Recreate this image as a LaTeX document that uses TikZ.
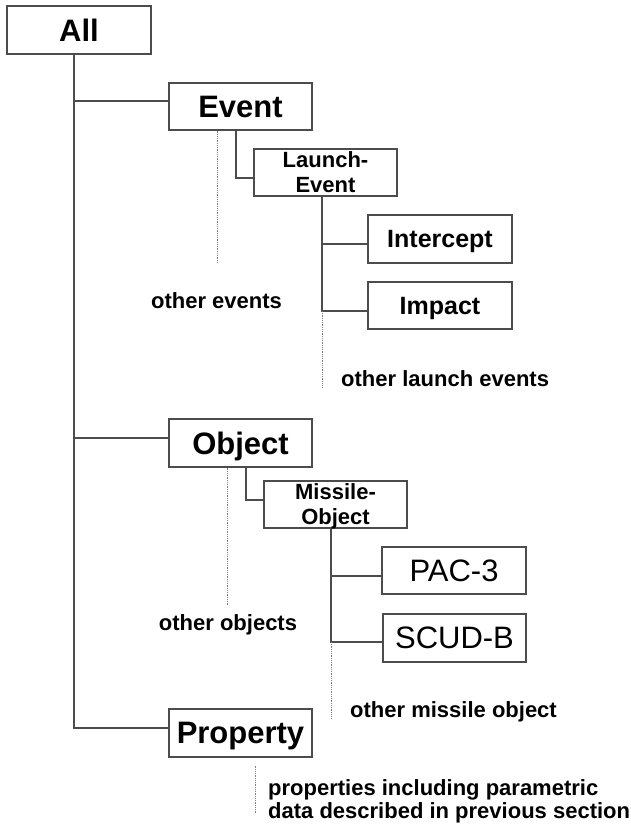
\documentclass[tikz,border=0pt]{standalone}
\usepackage{fontspec}
\setmainfont{Liberation Sans}
\usetikzlibrary{positioning}
\definecolor{linegray}{gray}{0.3}
\tikzset{
    box/.style={
        draw=linegray, line width=1.2pt,
        minimum width=#1, minimum height=48pt,
        inner sep=0pt, text depth=0pt, align=center,
        font=\bfseries\fontsize{31}{36}\selectfont
    },
    box/.default=144pt,
    subbox/.style={box=143pt, minimum height=47pt, font=\bfseries\fontsize{22}{25}\selectfont},
    leafbox/.style={box, font=\bfseries\fontsize{25}{30}\selectfont},
    tree/.style={draw=linegray, line width=1.2pt},
    dots/.style={draw=gray, densely dotted, line width=0.8pt},
    note/.style={inner sep=0pt, font=\bfseries\fontsize{22}{23}\selectfont}
}

\begin{document}
\begin{tikzpicture}[x=1pt, y=-1pt]
		\useasboundingbox (0,0) rectangle (631,824);

		% Top level
		\node[box] (all) at (79,30) {All};
		\node[box=143pt, minimum height=47pt] (ev) at (240.5,106.5) {Event};
		\node[box=143pt] (obj) at (240.5,443) {Object};
		\node[box=143pt] (prop) at (240.5,733) {Property};

		\coordinate (trunk) at ([xshift=-5pt]all.south);
		\draw[tree] (trunk) |- ([yshift=5pt]prop.west);
		\draw[tree] ([yshift=5.5pt]trunk |- ev.west) -- ([yshift=5.5pt]ev.west);
		\draw[tree] ([yshift=5pt]trunk |- obj.west) -- ([yshift=5pt]obj.west);

		% Event side
		\node[subbox] (lev) at (325.5,172.5) {Launch-\\Event};
		\draw[tree] ([xshift=-4.5pt]ev.south) |- ([yshift=-5.5pt]lev.west);

		\node[leafbox] (icp) at (440,239) {Intercept};
		\node[leafbox, minimum height=47pt] (imp) at (440,305.5) {Impact};
		\coordinate (lt) at ([xshift=-3.5pt]lev.south);
		\draw[tree] (lt) |- ([yshift=-5.5pt]imp.west);
		\draw[tree] ([yshift=-5pt]lt |- icp.west) -- ([yshift=-5pt]icp.west);

		\coordinate (evend) at (217,263);
		\draw[dots] (ev.south -| evend) -- (evend);
		\node[note, anchor=base] (oev) at (216.5,308) {other events};

		\coordinate (levend) at (322,387);
		\draw[dots] ([yshift=-5.5pt]lt |- imp.west) -- (levend);
		\node[note, anchor=base west] (olev) at (341,386) {other launch events};

		% Object side
		\node[subbox] (mob) at (335.5,504.5) {Missile-\\Object};
		\draw[tree] ([xshift=5.5pt]obj.south) |- ([yshift=4.5pt]mob.west);

		\node[box, font=\fontsize{31}{36}\selectfont, minimum height=47pt] (pac) at (454,570.5) {PAC-3};
		\node[box, font=\fontsize{31}{36}\selectfont, minimum width=143pt] (scud) at (454.5,638) {SCUD-B};
		\coordinate (mt) at ([xshift=-4.5pt]mob.south);
		\draw[tree] (mt) |- ([yshift=-4pt]scud.west);
		\draw[tree] ([yshift=-5.5pt]mt |- pac.west) -- ([yshift=-5.5pt]pac.west);

		\coordinate (objend) at (227,605);
		\draw[dots] (obj.south -| objend) -- (objend);
		\node[note, anchor=base] (oobj) at (228,630) {other objects};

		\coordinate (mobend) at (331,718);
		\draw[dots] ([yshift=-4pt]mt |- scud.west) -- (mobend);
		\node[note, anchor=base west] (omob) at (350,717) {other missile object};

		% Property side
		\coordinate (propend) at (255,813);
		\draw[dots, shorten <=8pt] (prop.south -| propend) -- (propend);
		\node[note, anchor=north west, align=left] (oprop) at (268,779) {properties including parametric\\data described in previous section};

	\end{tikzpicture}
\end{document}
